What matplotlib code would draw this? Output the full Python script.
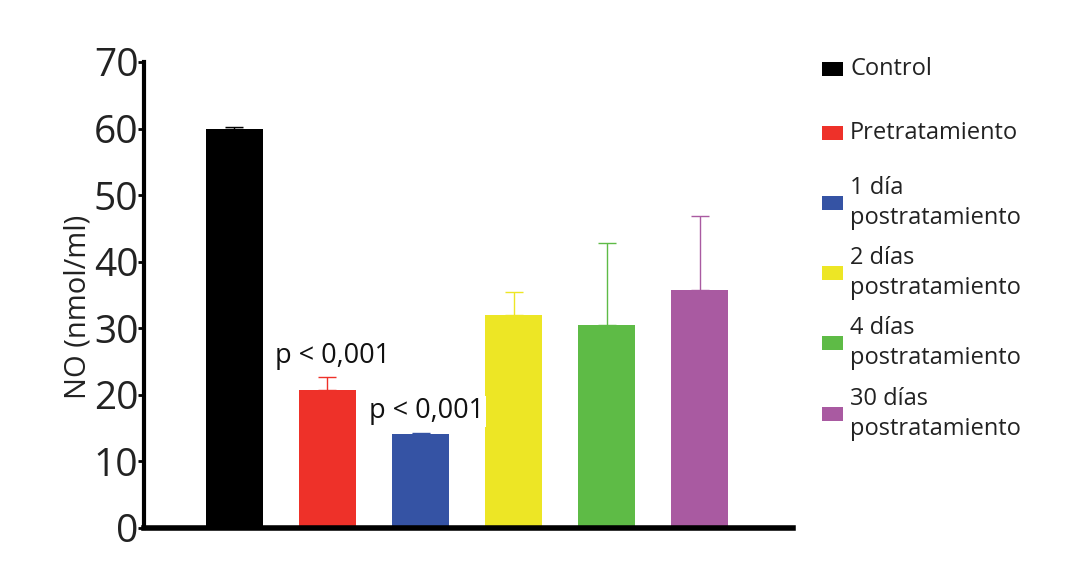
import matplotlib
matplotlib.use("Agg")
import matplotlib.pyplot as plt
from matplotlib.patches import Rectangle

plt.rcParams['font.family'] = ['Open Sans', 'DejaVu Sans']

groups = ['Control', 'Pretratamiento', '1 día\npostratamiento', '2 días\npostratamiento',
          '4 días\npostratamiento', '30 días\npostratamiento']
means = [60.0, 20.7, 14.1, 32.0, 30.5, 35.7]
err_up = [0.2, 2.0, 0.2, 3.4, 12.3, 11.1]
colors = ['#000000', '#EE3129', '#3553A4', '#EDE625', '#5EBB46', '#A95AA1']
p_labels = ['p < 0,001', 'p < 0,001']

fig = plt.figure(figsize=(10.7, 5.62), dpi=100)
ax = fig.add_axes([0.1346, 0.0605, 0.6064, 0.8292])

x = list(range(len(groups)))
ax.bar(x, means, width=0.61, color=colors, zorder=2)
for xi, m, e, c in zip(x, means, err_up, colors):
    ax.errorbar(xi, m, yerr=[[0], [e]], color=c, capsize=6.5, elinewidth=1,
                capthick=1, zorder=1)

ax.text(1.06, 25.8, p_labels[0], fontsize=19.5, ha='center', va='center', zorder=3,
        color='#111111', bbox=dict(facecolor='white', edgecolor='none', pad=1))
ax.text(2.07, 17.5, p_labels[1], fontsize=19.5, ha='center', va='center', zorder=3,
        color='#111111', bbox=dict(facecolor='white', edgecolor='none', pad=1))

ax.set_xlim(-0.97, 6.0)
ax.set_ylim(0, 70)
ax.set_yticks(range(0, 71, 10))
ax.set_xticks([])
ax.tick_params(axis='y', labelsize=28, length=4, width=2, pad=0, labelcolor='#222222')
for s in ['top', 'right']:
    ax.spines[s].set_visible(False)
ax.spines['left'].set_linewidth(3)
ax.spines['bottom'].set_linewidth(4)
ax.set_ylabel('NO (nmol/ml)', fontsize=21, color='#222222')
ax.yaxis.set_label_coords(-0.08, 0.474)

# legend, drawn by hand in pixel units
leg_y = [69, 133, 203, 273, 343, 414]
for g, c, yy in zip(groups, colors, leg_y):
    fy = 1 - yy / 562
    fig.patches.append(Rectangle((822 / 1070, fy - 7 / 562), 21 / 1070, 14 / 562,
                                 facecolor=c, edgecolor='none', transform=fig.transFigure))
    fig.text(850 / 1070, fy, g, fontsize=17, va='center', ha='left', color='#222222',
             linespacing=1.3)

fig.savefig('out.png', dpi=100)
